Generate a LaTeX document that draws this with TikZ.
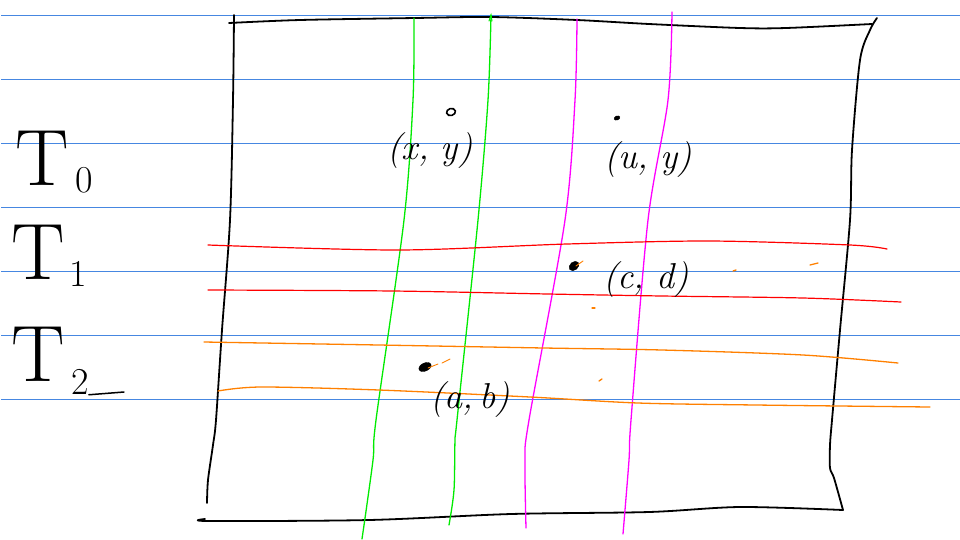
\documentclass[tikz,border=0pt]{standalone}
\usepackage{fontspec}
\usetikzlibrary{shapes.geometric}
\definecolor{gr}{RGB}{0,235,0}
\definecolor{mg}{RGB}{255,0,255}
\definecolor{rd}{RGB}{255,0,0}
\definecolor{og}{RGB}{255,128,0}
\definecolor{bl}{RGB}{70,135,225}
\begin{document}
\begin{tikzpicture}[x=1pt,y=-1pt,
  rulebar/.style={fill=bl,draw=none},
  ink/.style={draw=black,line width=1.8pt,line cap=round,line join=round},
  gline/.style={draw=gr,line width=1.3pt,line cap=round},
  mline/.style={draw=mg,line width=1.3pt,line cap=round},
  rline/.style={draw=rd,line width=1.2pt,line cap=round},
  oline/.style={draw=og,line width=1.3pt,line cap=round},
  dot/.style={fill=black,draw=black,ellipse,inner sep=0pt},
  lbl/.style={inner sep=0pt,font=\fontsize{36}{38}\selectfont\itshape},
  bigT/.style={inner sep=0pt,font=\fontsize{80}{80}\selectfont},
  subs/.style={inner sep=0pt,font=\fontsize{38}{38}\selectfont}]
\useasboundingbox (0,0) rectangle (960,539);
% ruled lines
\foreach \yy in {15.5,79.5,143.5,207.5,271.5,335.5,399.5}
  \fill[rulebar] (0.5,\yy-0.9) rectangle (959.5,\yy+0.9);
% frame
\draw[ink] plot[smooth] coordinates {(229,23)(300,20)(415,18)(491,17)(577,20)(649,24)(740,28)(786,28)(872,24)};
\draw[ink] plot[smooth] coordinates {(234,15)(233,100)(230,220)(222,330)(216,420)(213,445)(208,480)(207,503)};
\draw[ink] plot[smooth] coordinates {(205,519)(209,521)(369,520)(511,514)(649,512)(740,507)(843,510)};
\draw[ink] plot[smooth] coordinates {(877,18)(870,30)(860,60)(852,150)(850,220)(840,330)(832,420)(830,445)(830,468)(834,478)(843,510)};
% vertical strips
\draw[gline] plot[smooth] coordinates {(414,18)(413,100)(404,220)(376,420)(373,460)(362,539)};
\draw[gline] plot[smooth] coordinates {(491,15)(488,100)(478,220)(457,420)(455,440)(454,490)(449,525)};
\draw[gline,line width=1pt] (489,21) -- (491,15) -- (492,21);
\draw[mline] plot[smooth] coordinates {(577,19)(575,100)(565,220)(529,420)(525,460)(526,528)};
\draw[mline] plot[smooth] coordinates {(672,12)(668,100)(648,220)(631,420)(629,460)(623,534)};
% horizontal strips
\draw[rline] plot[smooth] coordinates {(208,245)(398,250)(567,244)(709,241)(850,245)(887,249)};
\draw[rline] plot[smooth] coordinates {(208,290)(393,291)(548,294)(662,296)(803,298)(901,302)};
\draw[oline] plot[smooth] coordinates {(204,342)(379,345)(544,348)(662,350)(803,355)(898,363)};
\draw[oline] plot[smooth] coordinates {(218,391)(261,387)(379,390)(530,397)(638,403)(756,405)(930,407)};
% small orange marks
\draw[oline] (733,271) -- (736,270);
\draw[oline] (810,265) -- (818,263);
\draw[oline] (592,308) -- (595,308);
\draw[oline] (599,381) -- (602,379);
% points
\node[draw=black,line width=1.6pt,ellipse,minimum width=9pt,minimum height=7pt,inner sep=0pt,rotate=15] (pxy) at (451,112) {};
\node[dot,minimum width=6pt,minimum height=4pt,rotate=20] (puy) at (617,118) {};
\node[dot,minimum width=11pt,minimum height=8pt,rotate=40] (pcd) at (574,266) {};
\node[dot,minimum width=13pt,minimum height=8pt,rotate=25] (pab) at (425,367) {};
\draw[oline,line width=0.9pt] (576,266) -- (583,261);
\draw[oline,line width=0.9pt] (428,368) -- (438,364);
\draw[oline,line width=0.9pt] (442,363) -- (450,359);
% labels
\node[lbl] (lxy) at (430,151) {(x,\,\,y)};
\node[lbl] (luy) at (648,160) {(u,\,\,y)};
\node[lbl] (lcd) at (646,280) {(c,\,\,d)};
\node[lbl] (lab) at (470,400) {(a,\,b)};
% left labels
\node[bigT] (t0) at (42,158) {T};
\node[subs] (s0) at (84,180) {0};
\node[bigT] (t1) at (38,252) {T};
\node[subs] (s1) at (78,274) {1};
\node[bigT] (t2) at (38,354) {T};
\node[subs] (s2) at (80,382) {2};
\draw[ink,line width=1.5pt] (s2.south east) -- (124,392);
\end{tikzpicture}
\end{document}
